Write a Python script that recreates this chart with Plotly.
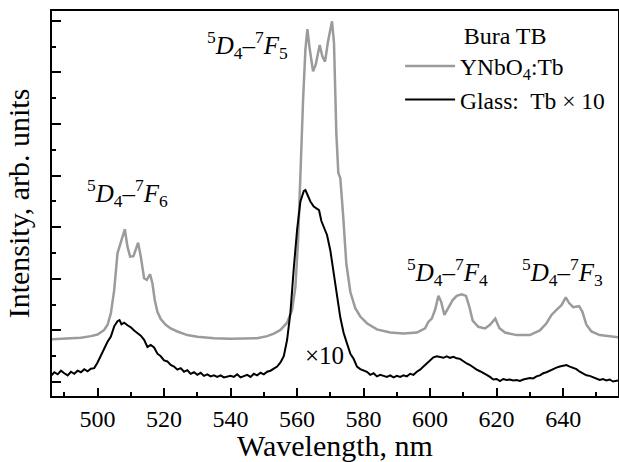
import plotly.graph_objects as go

# YNbO4:Tb spectrum (gray)
wl_ynbo = [486, 490, 495, 498, 500, 502, 503, 504, 505, 506, 506.8, 507.5, 508.2, 509, 509.8, 510.8,
           511.5, 512.2, 513, 514, 514.8, 515.8, 516.5, 517.2, 518, 519, 520.5, 522, 524, 527, 530,
           535, 540, 545, 548, 551, 553, 555, 557, 558.5, 559.5, 560.3, 561, 561.8, 562.5, 563.1,
           563.7, 564.8, 565.6, 566.8, 567.6, 568.4, 569.3, 570.5, 571.1, 571.8, 572.4, 573, 573.8,
           574.8, 576, 577.5, 579, 581, 584, 588, 592, 596, 598.5, 599.5, 600.5, 601.5, 602.5, 603.3,
           604.3, 605.5, 606.8, 608, 609.5, 610.8, 611.8, 612.8, 614.5, 616.5, 618, 619.6, 620.8,
           622.5, 626, 630, 633, 635, 636.5, 638, 639.5, 640.8, 641.8, 643, 644.8, 645.8, 647, 648.5,
           651, 656.5]
int_ynbo = [0.83, 0.84, 0.86, 0.89, 0.92, 1.01, 1.11, 1.33, 1.78, 2.50, 2.66, 2.79, 2.96, 2.62, 2.43,
            2.44, 2.59, 2.70, 2.43, 2.01, 1.98, 2.09, 1.91, 1.59, 1.36, 1.22, 1.11, 1.04, 0.98, 0.91,
            0.88, 0.85, 0.84, 0.84, 0.85, 0.89, 0.94, 1.01, 1.15, 1.40, 1.85, 2.75, 4.18, 5.47, 6.44,
            6.84, 6.50, 6.02, 6.15, 6.53, 6.31, 6.21, 6.60, 6.99, 6.57, 4.82, 4.05, 3.95, 3.27, 2.30,
            1.75, 1.43, 1.27, 1.14, 1.02, 0.96, 0.94, 0.96, 1.04, 1.17, 1.23, 1.40, 1.67, 1.56, 1.30,
            1.43, 1.59, 1.67, 1.70, 1.67, 1.46, 1.19, 1.07, 1.04, 1.11, 1.23, 1.05, 0.96, 0.91, 0.91,
            1.00, 1.14, 1.30, 1.40, 1.49, 1.64, 1.53, 1.45, 1.47, 1.36, 1.11, 0.98, 0.91, 0.87]

# Glass:Tb spectrum x10 (black)
wl_glass = [486, 487, 488, 489, 490, 491, 492, 493, 494, 495, 496, 497, 498, 499, 500, 501, 502, 503,
            504, 505, 506, 506.6, 507.2, 508, 509, 510, 511, 512, 513, 514, 515, 516, 517, 518, 519,
            520, 521, 522, 523, 524, 525, 526, 527, 528, 529, 530, 531, 532, 533, 534, 535, 536, 537,
            538, 539, 540, 541, 542, 543, 544, 545, 546, 547, 548, 549, 550, 551, 552, 553, 554, 555,
            556, 557, 558, 559, 560, 561, 562, 562.5, 563.2, 564, 565, 566, 566.6, 567.3, 568, 569,
            570, 571, 572, 573, 574, 575, 576, 577, 578, 579, 580, 581, 582, 583, 584, 585, 586, 587,
            588, 589, 590, 591, 592, 593, 594, 595, 596, 597, 598, 599, 600, 601, 602, 603, 604, 605,
            606, 607, 608, 609, 610, 611, 612, 613, 614, 615, 616, 617, 618, 619, 620, 621, 622, 623,
            624, 625, 626, 627, 628, 629, 630, 631, 632, 633, 634, 635, 636, 637, 638, 639, 640, 641,
            642, 643, 644, 645, 646, 647, 648, 649, 650, 651, 652, 653, 654, 655, 656.5]
int_glass = [0.12, 0.19, 0.15, 0.22, 0.17, 0.13, 0.20, 0.16, 0.22, 0.19, 0.25, 0.21, 0.26, 0.27, 0.38,
             0.52, 0.66, 0.78, 0.88, 1.08, 1.18, 1.20, 1.12, 1.15, 1.10, 1.06, 1.00, 0.95, 0.90, 0.82,
             0.68, 0.72, 0.67, 0.55, 0.50, 0.42, 0.40, 0.33, 0.30, 0.24, 0.27, 0.20, 0.23, 0.16, 0.19,
             0.14, 0.18, 0.12, 0.15, 0.11, 0.13, 0.10, 0.13, 0.09, 0.11, 0.12, 0.10, 0.15, 0.09, 0.11,
             0.14, 0.10, 0.16, 0.13, 0.18, 0.15, 0.20, 0.22, 0.26, 0.30, 0.38, 0.50, 0.82, 1.35, 2.20,
             2.95, 3.50, 3.70, 3.72, 3.62, 3.50, 3.40, 3.35, 3.33, 3.12, 3.00, 2.85, 2.55, 2.15, 1.68,
             1.25, 0.95, 0.75, 0.55, 0.45, 0.30, 0.25, 0.22, 0.20, 0.14, 0.17, 0.11, 0.14, 0.12, 0.10,
             0.13, 0.09, 0.12, 0.10, 0.13, 0.11, 0.16, 0.14, 0.20, 0.24, 0.30, 0.36, 0.42, 0.48, 0.50,
             0.49, 0.47, 0.50, 0.47, 0.49, 0.46, 0.45, 0.40, 0.36, 0.33, 0.28, 0.24, 0.21, 0.18, 0.14,
             0.10, 0.05, 0.06, 0.02, 0.06, 0.04, 0.05, 0.03, 0.04, 0.02, 0.05, 0.06, 0.08, 0.07, 0.11,
             0.13, 0.17, 0.19, 0.22, 0.26, 0.28, 0.30, 0.32, 0.33, 0.30, 0.28, 0.25, 0.20, 0.17, 0.13,
             0.12, 0.09, 0.07, 0.04, 0.06, 0.03, 0.05, 0.01, 0.03]

# transition labels
label_text = ["<sup>5</sup><i>D</i><sub>4</sub>\u2013<sup>7</sup><i>F</i><sub>6</sub>",
              "<sup>5</sup><i>D</i><sub>4</sub>\u2013<sup>7</sup><i>F</i><sub>5</sub>",
              "<sup>5</sup><i>D</i><sub>4</sub>\u2013<sup>7</sup><i>F</i><sub>4</sub>",
              "<sup>5</sup><i>D</i><sub>4</sub>\u2013<sup>7</sup><i>F</i><sub>3</sub>",
              "\u00d710"]
label_x = [509, 545.2, 605.2, 639.8, 568.1]
label_y = [3.66, 6.53, 2.13, 2.13, 0.52]

FONT = "Liberation Serif"
FS = 25

fig = go.Figure()
fig.add_trace(go.Scatter(x=wl_ynbo, y=int_ynbo, mode="lines",
                         line=dict(color="#9b9b9b", width=2.5),
                         name="YNbO<sub>4</sub>:Tb"))
fig.add_trace(go.Scatter(x=wl_glass, y=int_glass, mode="lines",
                         line=dict(color="#000000", width=2),
                         name="Glass:  Tb \u00d7 10"))

for t, x, y in zip(label_text, label_x, label_y):
    fig.add_annotation(x=x, y=y, text=t, showarrow=False,
                       font=dict(family=FONT, size=FS, color="black"))

fig.update_layout(
    width=619, height=462,
    margin=dict(l=52, r=1, t=11, b=66),
    paper_bgcolor="white", plot_bgcolor="white",
    font=dict(family=FONT, size=FS, color="black"),
    showlegend=True,
    legend=dict(x=0.615, y=0.995, xanchor="left", yanchor="top",
                bgcolor="rgba(0,0,0,0)", font=dict(size=23.5),
                title=dict(text="Bura TB", side="top center", font=dict(size=24)),
                itemwidth=50, tracegroupgap=0),
)
fig.update_xaxes(range=[486.3, 656.5], tick0=500, dtick=20, ticks="inside", ticklen=8,
                 tickwidth=1.5, tickcolor="black",
                 minor=dict(dtick=10, ticks="inside", ticklen=4, tickwidth=1.5, tickcolor="black"),
                 showline=True, linecolor="black", linewidth=2, mirror=True, showgrid=False,
                 zeroline=False, automargin=False,
                 title=dict(text="Wavelength, nm", standoff=1),
                 tickfont=dict(size=24))
fig.update_yaxes(range=[-0.27, 7.19], tick0=0, dtick=1, ticks="inside", ticklen=9,
                 tickwidth=1.5, tickcolor="black",
                 minor=dict(dtick=0.5, ticks="inside", ticklen=4, tickwidth=1.5, tickcolor="black"),
                 showticklabels=False, automargin=False,
                 showline=True, linecolor="black", linewidth=2, mirror=True, showgrid=False,
                 zeroline=False, title=dict(text="Intensity, arb. units", standoff=12))

# remove the default page margin so the figure sits at the window's top-left corner
fig.write_html("out.html",
               config={"displayModeBar": False},
               post_script="document.body.style.margin='0';document.body.style.overflow='hidden';")
